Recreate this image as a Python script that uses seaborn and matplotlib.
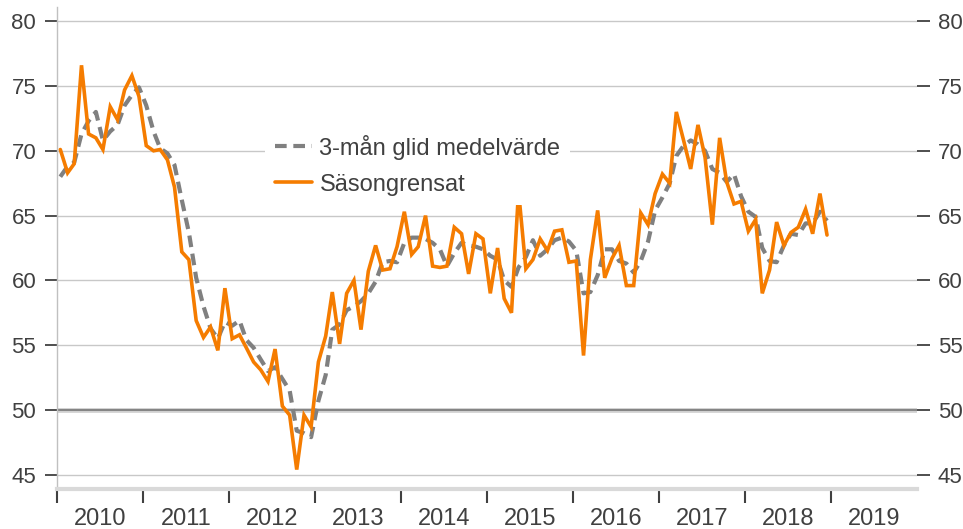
import numpy as np
import pandas as pd
import matplotlib
matplotlib.use('Agg')
import matplotlib.pyplot as plt
import seaborn as sns

# Monthly values Jan 2010 - Dec 2018
sasongrensat = [
    70.1, 68.3, 69.0, 76.6, 71.3, 71.0, 70.1, 73.4, 72.4, 74.7, 75.8, 74.2,
    70.4, 70.0, 70.1, 69.3, 67.2, 62.2, 61.6, 56.9, 55.6, 56.4, 54.6, 59.4,
    55.5, 55.8, 54.8, 53.7, 53.1, 52.2, 54.7, 50.3, 49.6, 45.4, 49.6, 48.7,
    53.7, 55.7, 59.1, 55.1, 59.0, 60.0, 56.2, 60.7, 62.7, 60.8, 60.9, 62.6,
    65.3, 62.0, 62.6, 65.0, 61.1, 61.0, 61.1, 64.1, 63.6, 60.5, 63.6, 63.2,
    59.0, 62.5, 58.6, 57.5, 66.9, 60.9, 61.6, 63.2, 62.3, 63.8, 63.9, 61.4,
    61.5, 54.2, 61.6, 65.4, 60.2, 61.7, 62.7, 59.6, 59.6, 65.2, 64.3, 66.7,
    68.2, 67.5, 73.0, 70.8, 68.6, 72.0, 69.5, 64.3, 71.0, 67.6, 65.9, 66.1,
    63.8, 64.7, 59.0, 60.8, 64.5, 62.7, 63.7, 64.1, 65.5, 63.6, 66.7, 63.5,
]
glid_medel = [
    68.0, 68.8, 69.1, 71.3, 72.3, 73.0, 70.8, 71.5, 72.0, 73.5, 74.3, 74.9,
    73.5, 71.5, 70.2, 69.8, 68.9, 66.2, 63.7, 60.2, 58.0, 56.3, 55.5, 56.8,
    56.5, 56.9, 55.4, 54.8, 53.9, 53.0, 53.3, 52.4, 51.5, 48.4, 48.2, 47.9,
    50.7, 52.7, 56.2, 56.6, 57.7, 58.0, 58.4, 59.0, 59.9, 61.4, 61.5, 61.4,
    62.9, 63.3, 63.3, 63.2, 62.9, 62.4, 61.1, 62.1, 62.9, 62.7, 62.6, 62.4,
    61.9, 61.6, 60.0, 59.5, 61.0, 61.8, 63.1, 61.9, 62.4, 63.1, 63.3, 63.0,
    62.3, 59.0, 59.1, 60.4, 62.4, 62.4, 61.5, 61.3, 60.6, 61.5, 63.0, 65.4,
    66.4, 67.5, 69.6, 70.4, 70.8, 70.5, 70.0, 68.6, 68.3, 67.6, 68.2, 66.5,
    65.3, 64.9, 62.5, 61.5, 61.4, 62.7, 63.6, 63.5, 64.4, 64.4, 65.3, 64.6,
]
years = list(range(2010, 2020))
y_ticks = [45, 50, 55, 60, 65, 70, 75, 80]

dates = pd.date_range('2010-01-01', periods=len(sasongrensat), freq='MS') + pd.Timedelta(days=14)
df = pd.DataFrame({'date': dates, 'sa': sasongrensat, 'ma': glid_medel})

sns.set_theme(style='white')
plt.rcParams['font.family'] = ['Liberation Sans', 'DejaVu Sans']

text_col = '#404040'
orange = '#F57C00'
grey = '#808080'

fig = plt.figure(figsize=(9.63, 5.29), dpi=100)
ax = fig.add_axes([0.0592, 0.0756, 0.893, 0.9112])

ax.set_ylim(43.9, 81.1)
ax.set_yticks(y_ticks)
for v in y_ticks:
    if v != 50:
        ax.axhline(v, color='#c8c8c8', lw=1, zorder=0)
ax.axhline(50, color='#d4d4d4', lw=3.5, zorder=1)
ax.axhline(50, color='#858585', lw=1.5, zorder=1)

sns.lineplot(data=df, x='date', y='ma', ax=ax, color=grey, lw=3,
             label='3-mån glid medelvärde', zorder=3)
ax.lines[-1].set_dashes((2.8, 1.6))
sns.lineplot(data=df, x='date', y='sa', ax=ax, color=orange, lw=2.6,
             label='Säsongrensat', zorder=4)
ax.lines[-1].set_solid_joinstyle('miter')

ax.set_xlim(pd.Timestamp('2010-01-01'), pd.Timestamp('2020-01-01'))
ax.set_xticks([pd.Timestamp(f'{y}-01-01') for y in years])
ax.set_xticklabels([])
ax.set_xticks([pd.Timestamp(f'{y}-07-02') for y in years], minor=True)
ax.set_xticklabels([str(y) for y in years], minor=True)
ax.tick_params(axis='x', which='major', direction='out', length=10, width=1.5,
               color='#404040', bottom=True)
ax.tick_params(axis='x', which='minor', length=0, pad=14, labelsize=17,
               labelcolor=text_col)
ax.tick_params(axis='y', direction='out', length=9, width=1.3, color='#404040',
               left=True, labelsize=16, labelcolor=text_col, pad=6)
ax.set_xlabel('')
ax.set_ylabel('')

for s in ['top', 'right']:
    ax.spines[s].set_visible(False)
ax.spines['left'].set_color('#c0c0c0')
ax.spines['left'].set_linewidth(1)
ax.spines['bottom'].set_color('#d9d9d9')
ax.spines['bottom'].set_linewidth(3)

ax2 = ax.twinx()
ax2.set_ylim(ax.get_ylim())
ax2.set_yticks(y_ticks)
ax2.tick_params(axis='y', direction='out', length=9, width=1.3, color='#404040',
                right=True, labelsize=16, labelcolor=text_col, pad=6)
for s in ax2.spines.values():
    s.set_visible(False)

leg = ax.legend(loc='upper left', bbox_to_anchor=(0.242, 0.755), frameon=True,
                fontsize=17, handlelength=1.6, handletextpad=0.3,
                labelspacing=0.6, borderpad=0.4, borderaxespad=0)
leg.get_frame().set_facecolor('white')
leg.get_frame().set_edgecolor('none')
leg.get_frame().set_alpha(1)
for t in leg.get_texts():
    t.set_color(text_col)

fig.savefig('out.png', dpi=100)
